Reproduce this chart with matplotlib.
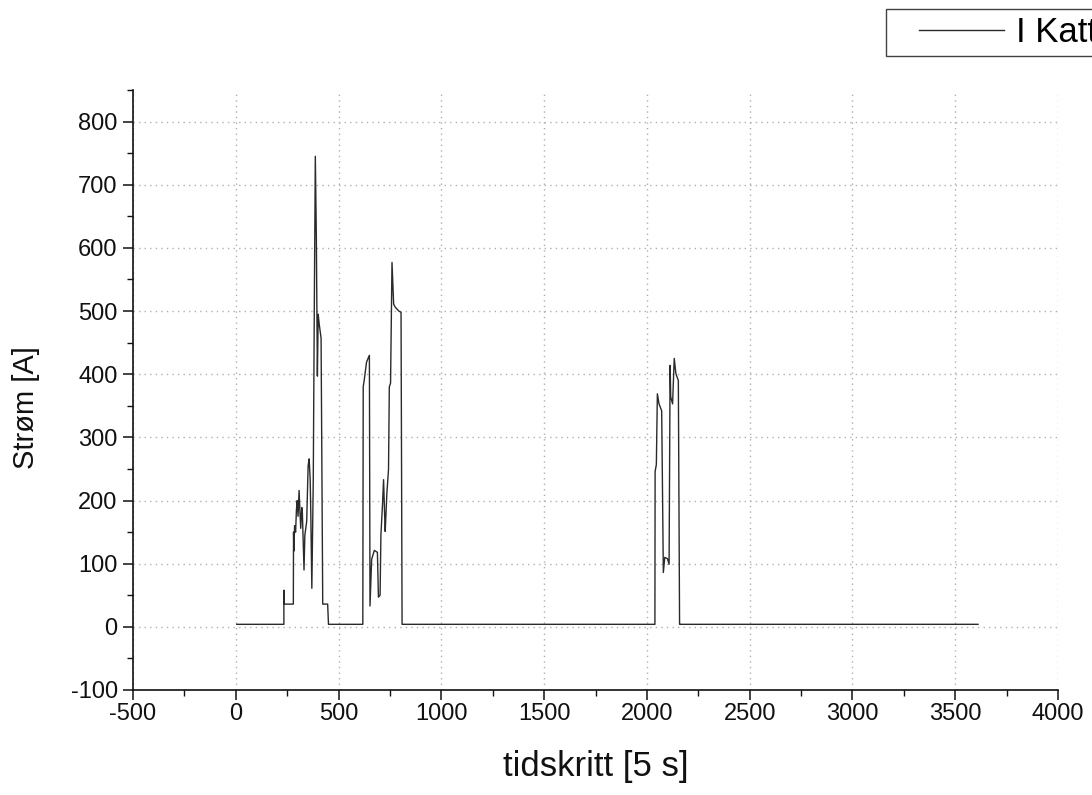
import matplotlib
matplotlib.use("Agg")
import matplotlib.pyplot as plt
from matplotlib.ticker import MultipleLocator
from matplotlib.legend_handler import HandlerLine2D

# Time step (5 s each) and measured current [A]
tidskritt = [
    5, 234, 234, 236, 280,
    281, 283, 286, 291, 295, 299, 303, 308, 312, 316, 321, 324, 332,
    336, 345, 352, 357, 362, 365, 370, 377, 382, 387, 392, 397,
    401, 406, 415, 423, 447, 451,
    618, 620, 625, 636, 650, 653, 661, 674, 689, 694, 702, 706,
    714, 719, 724, 727, 735, 743, 747, 753, 760, 768, 776, 793, 804, 809,
    2039, 2040, 2046, 2051, 2059, 2072, 2080, 2087, 2100, 2108, 2113,
    2116, 2125, 2133, 2141, 2153, 2159, 2160,
    3611,
]
strom = [
    4, 4, 58, 36, 36,
    150, 120, 160, 150, 185, 200, 175, 216, 184, 156, 189, 180, 90,
    145, 167, 255, 266, 233, 178, 61, 233, 506, 745, 615, 397,
    495, 479, 457, 36, 36, 4,
    4, 380, 391, 419, 430, 33, 107, 121, 118, 47, 50, 145,
    195, 233, 178, 151, 211, 249, 380, 386, 577, 511, 506, 500, 498, 4,
    4, 246, 257, 369, 353, 342, 86, 110, 108, 99, 414,
    364, 353, 425, 401, 390, 4, 4,
    4,
]
serie_navn = "I Kattegat"

x_ticks = [-500, 0, 500, 1000, 1500, 2000, 2500, 3000, 3500, 4000]
y_ticks = [-100, 0, 100, 200, 300, 400, 500, 600, 700, 800]

plt.rcParams["font.family"] = ["Liberation Sans", "DejaVu Sans"]
plt.rcParams["axes.unicode_minus"] = False

fig = plt.figure(figsize=(10.92, 7.95), dpi=100)
ax = fig.add_axes([133 / 1092, 105 / 795, 925 / 1092, 600 / 795])

line, = ax.plot(tidskritt, strom, color="#2a2a2a", lw=1.0, label=serie_navn)

ax.set_xlim(-500, 4000)
ax.set_ylim(-100, 850)
ax.set_xticks(x_ticks)
ax.set_yticks(y_ticks)
ax.xaxis.set_minor_locator(MultipleLocator(250))
ax.yaxis.set_minor_locator(MultipleLocator(50))

for side in ("top", "right"):
    ax.spines[side].set_visible(False)
for side in ("left", "bottom"):
    ax.spines[side].set_linewidth(1.2)
    ax.spines[side].set_color("#111111")

ax.tick_params(which="major", direction="out", length=7, width=1.1,
               labelsize=17, colors="#111111", pad=4)
ax.tick_params(axis="x", which="major", pad=2)
ax.tick_params(which="minor", direction="out", length=4, width=1.0,
               colors="#111111")

ax.grid(True, which="major", linestyle=(0, (1, 3)), color="#b0b0b0", lw=1.0)
ax.set_axisbelow(True)

ax.set_xlabel("tidskritt [5 s]", fontsize=25, color="#111111")
ax.set_ylabel("Strøm [A]", fontsize=21, color="#111111")
ax.xaxis.set_label_coords(0.5, -0.10)
ax.yaxis.set_label_coords(-0.10, 0.47)

leg = fig.legend(handles=[line], loc="upper left",
                 bbox_to_anchor=(886 / 1092, 1 - 9 / 795),
                 fontsize=25, frameon=True, fancybox=False, shadow=False,
                 borderpad=0.2, borderaxespad=0, handlelength=3.2,
                 handletextpad=0.35,
                 handler_map={line: HandlerLine2D(xpad=0.75)})
leg.get_frame().set_edgecolor("#111111")
leg.get_frame().set_linewidth(1.0)

fig.savefig("out.png", dpi=100)
